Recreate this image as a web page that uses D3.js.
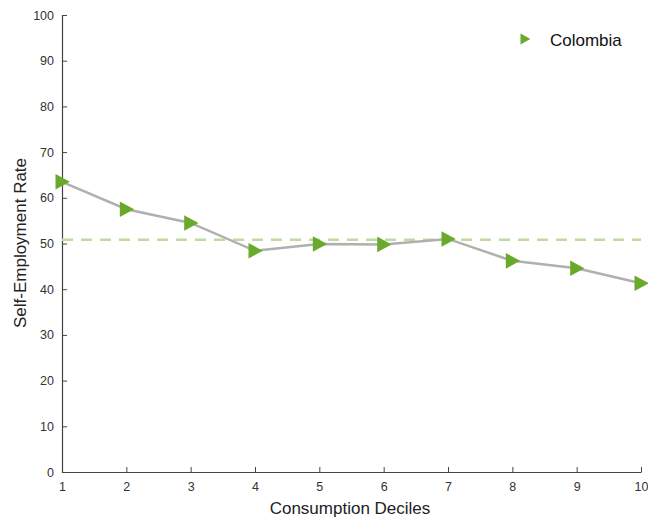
<!DOCTYPE html>
<html><head><meta charset="utf-8">
<script src="https://cdn.jsdelivr.net/npm/d3@7"></script>
<style>body{margin:0;background:#fff;} text{font-family:"Liberation Sans",Arial,sans-serif;}</style>
</head><body><svg id="c" width="648" height="521"></svg>
<script>
const deciles = [1,2,3,4,5,6,7,8,9,10];
const rates = [63.5,57.5,54.5,48.4,49.9,49.8,51.0,46.2,44.6,41.3];
const average = 50.8;
const seriesName = "Colombia";
const yTicks = [0,10,20,30,40,50,60,70,80,90,100];

const svg = d3.select("#c");
const m = {l:62, r:641, t:15, b:472};
const x = d3.scaleLinear().domain([1,10]).range([m.l,m.r]);
const y = d3.scaleLinear().domain([0,100]).range([m.b,m.t]);

const xAxis = svg.append("g").attr("transform",`translate(0,${m.b})`)
  .call(d3.axisBottom(x).tickValues(deciles).tickFormat(d3.format("d")).tickSizeInner(-5).tickSizeOuter(0).tickPadding(10));
const yAxis = svg.append("g").attr("transform",`translate(${m.l},0)`)
  .call(d3.axisLeft(y).tickValues(yTicks).tickSizeInner(-5).tickSizeOuter(0).tickPadding(8));
[xAxis,yAxis].forEach(a=>{
  a.selectAll("path").attr("stroke","#444").attr("stroke-width",1.2);
  a.selectAll("line").attr("stroke","#444");
  a.selectAll("text").attr("font-size",12.5).attr("fill","#333").attr("font-family","Liberation Sans, Arial, sans-serif");
});

svg.append("line").attr("x1",x(1)).attr("x2",x(10)).attr("y1",y(average)).attr("y2",y(average))
  .attr("stroke","#bcdca0").attr("stroke-width",2.5).attr("stroke-dasharray","11,8");

svg.append("path").datum(deciles.map((d,i)=>[d,rates[i]]))
  .attr("d",d3.line().x(d=>x(d[0])).y(d=>y(d[1])))
  .attr("fill","none").attr("stroke","#b0b0b0").attr("stroke-width",2.5);

const tri = (s)=>`M${-s*0.5},${-s*0.6}L${s*0.6},0L${-s*0.5},${s*0.6}Z`;
svg.selectAll(".pt").data(deciles).enter().append("path")
  .attr("transform",(d,i)=>`translate(${x(d)},${y(rates[i])})`)
  .attr("d",tri(13)).attr("fill","#6aaa2a");

svg.append("path").attr("transform","translate(525,39)").attr("d",tri(9)).attr("fill","#6aaa2a");
svg.append("text").attr("x",550).attr("y",46).attr("font-size",17).attr("fill","#111").text(seriesName);

svg.append("text").attr("x",350).attr("y",514).attr("text-anchor","middle").attr("font-size",17).attr("fill","#222").text("Consumption Deciles");
svg.append("text").attr("transform","translate(26,243) rotate(-90)").attr("text-anchor","middle").attr("font-size",17).attr("fill","#222").text("Self-Employment Rate");
</script></body></html>
